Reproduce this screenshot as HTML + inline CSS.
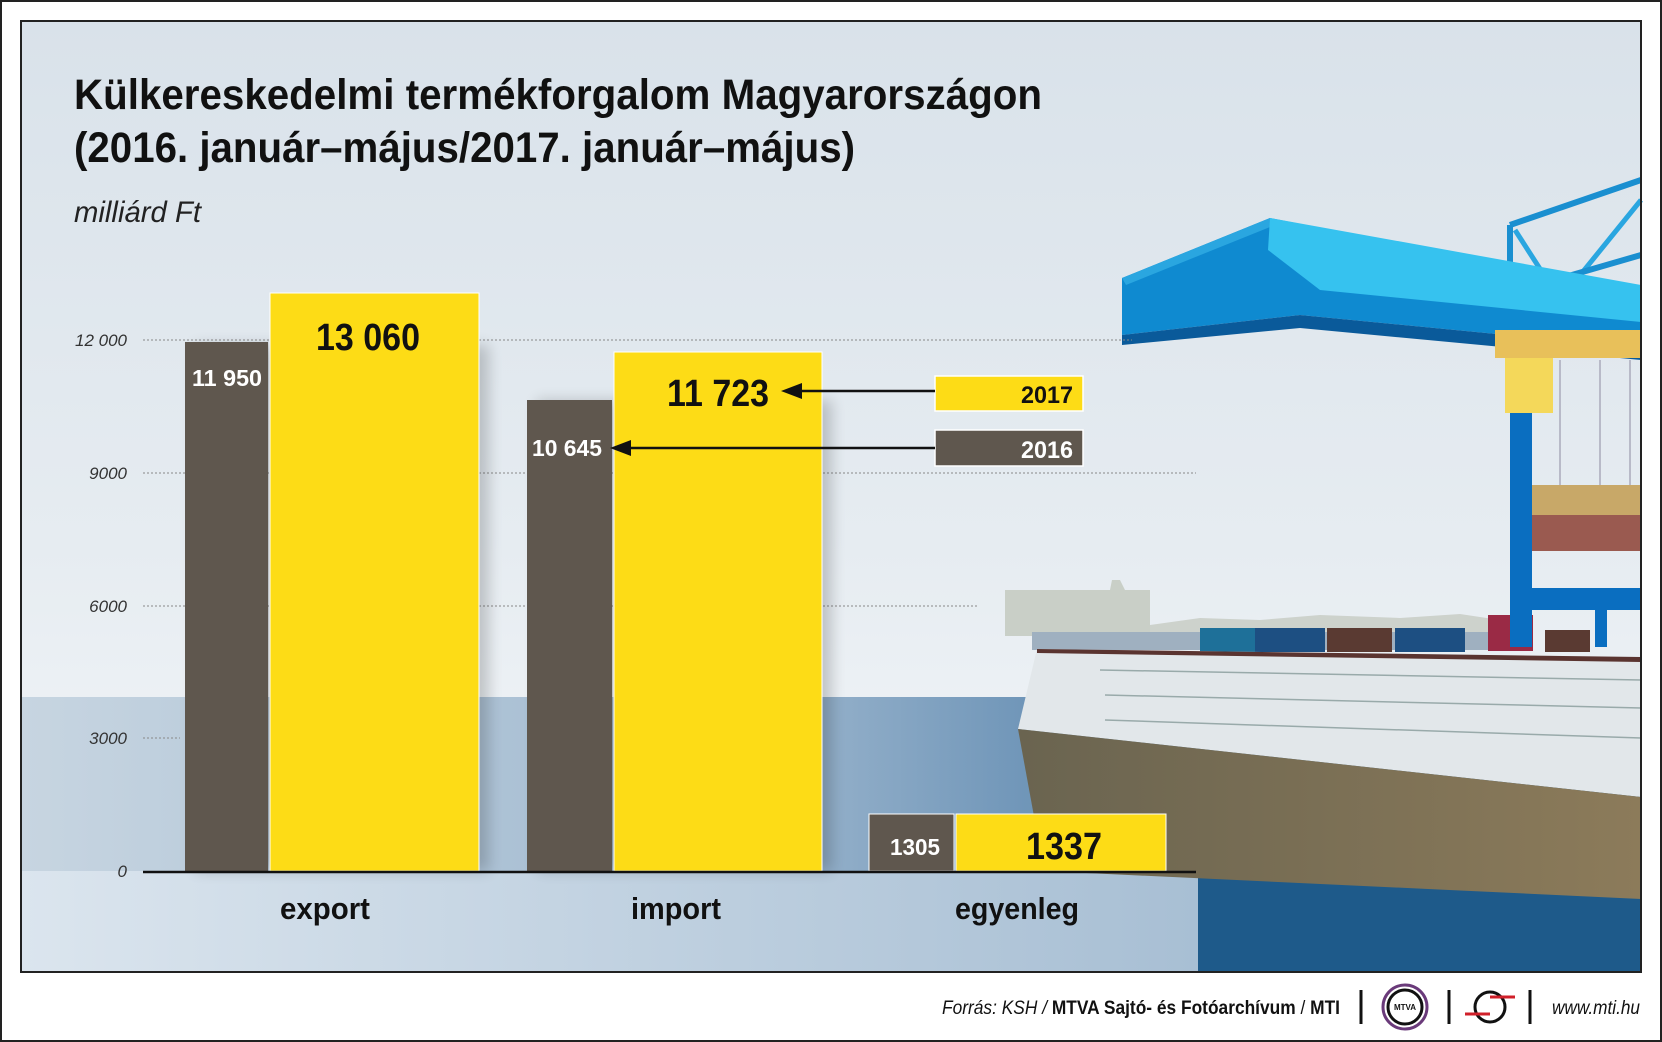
<!DOCTYPE html>
<html><head><meta charset="utf-8"><style>
html,body{margin:0;padding:0;background:#fff}
svg{display:block}
text{font-family:"Liberation Sans",sans-serif}
</style></head><body>
<svg width="1662" height="1042" viewBox="0 0 1662 1042" xmlns="http://www.w3.org/2000/svg">
<defs>
<linearGradient id="sky" x1="0" y1="0" x2="0" y2="1">
<stop offset="0" stop-color="#d9e2ea"/><stop offset="0.55" stop-color="#e6ecf1"/><stop offset="1" stop-color="#f6f8fa"/></linearGradient>
<linearGradient id="water" x1="0" y1="0" x2="1" y2="0">
<stop offset="0" stop-color="#c7d5e1"/><stop offset="0.45" stop-color="#9fb8cf"/><stop offset="0.7" stop-color="#5a86ae"/><stop offset="1" stop-color="#1e5a8a"/></linearGradient>
<linearGradient id="bot" x1="0" y1="0" x2="1" y2="0">
<stop offset="0" stop-color="#dbe5ee"/><stop offset="1" stop-color="#a8bfd4"/></linearGradient>
<linearGradient id="olive" x1="0" y1="0" x2="1" y2="0">
<stop offset="0" stop-color="#6a6450"/><stop offset="1" stop-color="#8c7b5a"/></linearGradient>
<filter id="sh" x="-20%" y="-10%" width="140%" height="120%"><feGaussianBlur stdDeviation="7"/></filter>
</defs>
<rect x="0" y="0" width="1662" height="1042" fill="#fff"/>
<rect x="21" y="21" width="1620" height="951" fill="url(#sky)"/>
<rect x="21" y="697" width="1620" height="275" fill="url(#water)"/>
<rect x="1198" y="840" width="443" height="132" fill="#1e5a8a"/>
<rect x="21" y="871" width="1177" height="101" fill="url(#bot)"/>
<!-- skyline -->
<polygon points="1005,590 1110,590 1112,580 1120,580 1125,590 1150,590 1150,636 1005,636" fill="#c9cfc7"/>
<polygon points="1150,625 1200,618 1260,620 1320,615 1400,618 1460,614 1500,620 1500,640 1150,640" fill="#cdd2cc"/>
<!-- ship -->
<rect x="1032" y="632" width="470" height="18" fill="#9fb0c0"/>
<rect x="1200" y="628" width="55" height="24" fill="#1e7099"/>
<rect x="1255" y="628" width="70" height="24" fill="#1d4f82"/>
<rect x="1327" y="628" width="65" height="24" fill="#5a3a32"/>
<rect x="1395" y="628" width="70" height="24" fill="#1d4f82"/>
<rect x="1488" y="615" width="45" height="36" fill="#9a2a45"/>
<rect x="1545" y="630" width="45" height="22" fill="#5a3a32"/>
<polygon points="1037,649 1641,657 1641,797 1018,729" fill="#e2e7ea"/>
<polygon points="1037,649 1641,657 1641,662 1037,653" fill="#5a3430"/>
<line x1="1100" y1="670" x2="1641" y2="680" stroke="#9aa" stroke-width="1.5"/>
<line x1="1105" y1="695" x2="1641" y2="708" stroke="#9aa" stroke-width="1.5"/>
<line x1="1105" y1="720" x2="1641" y2="738" stroke="#9aa" stroke-width="1.5"/>
<polygon points="1018,729 1641,797 1641,899 1044,871" fill="url(#olive)"/>
<!-- crane -->
<line x1="1510" y1="225" x2="1641" y2="180" stroke="#1a8fd0" stroke-width="6"/>
<line x1="1510" y1="225" x2="1510" y2="300" stroke="#1a8fd0" stroke-width="6"/>
<line x1="1515" y1="230" x2="1560" y2="300" stroke="#2aa6e0" stroke-width="5"/>
<line x1="1560" y1="300" x2="1641" y2="200" stroke="#2aa6e0" stroke-width="5"/>
<line x1="1520" y1="290" x2="1641" y2="255" stroke="#1a8fd0" stroke-width="6"/>
<polygon points="1122,278 1270,218 1641,290 1641,348 1300,315 1122,335" fill="#0f8ad0"/>
<polygon points="1122,278 1270,218 1275,225 1126,285" fill="#2aa6e0"/>
<polygon points="1270,218 1641,285 1641,322 1320,290 1268,250" fill="#36c2ef"/>
<polygon points="1122,335 1300,315 1641,348 1641,360 1300,328 1122,345" fill="#0a5a9a"/>
<rect x="1495" y="330" width="146" height="28" fill="#e8c05a"/>
<rect x="1505" y="358" width="48" height="55" fill="#f4d85a"/>
<rect x="1510" y="413" width="22" height="234" fill="#0a6ec0"/>
<rect x="1510" y="588" width="131" height="22" fill="#0a6ec0"/>
<rect x="1595" y="610" width="12" height="37" fill="#0a6ec0"/>
<g stroke="#aab" stroke-width="1.5"><line x1="1560" y1="360" x2="1560" y2="485"/><line x1="1600" y1="360" x2="1600" y2="485"/><line x1="1630" y1="360" x2="1630" y2="485"/></g>
<rect x="1532" y="485" width="109" height="30" fill="#c8a868"/>
<rect x="1532" y="515" width="109" height="36" fill="#9a5a50"/>
<!-- gridlines -->
<g stroke="#888" stroke-width="1" stroke-dasharray="2,2">
<line x1="143" y1="340" x2="1132" y2="340"/>
<line x1="143" y1="473" x2="1196" y2="473"/>
<line x1="143" y1="606" x2="977" y2="606"/>
<line x1="143" y1="738" x2="180" y2="738"/>
</g>
<g font-style="italic" font-size="17" fill="#333" text-anchor="end">
<text x="127" y="346">12 000</text><text x="127" y="479">9000</text>
<text x="127" y="612">6000</text><text x="127" y="744">3000</text><text x="127" y="877">0</text>
</g>
<!-- shadows -->
<g filter="url(#sh)" fill="#000" opacity="0.18">
<rect x="195" y="345" width="294" height="526"/>
<rect x="537" y="400" width="295" height="471"/>
</g>
<!-- bars -->
<rect x="185" y="342" width="83" height="529" fill="#5f574e"/>
<rect x="270" y="293" width="209" height="578" fill="#fddc16" stroke="#fff" stroke-width="1"/>
<rect x="527" y="400" width="85" height="471" fill="#5f574e"/>
<rect x="614" y="352" width="208" height="519" fill="#fddc16" stroke="#fff" stroke-width="1"/>
<rect x="869" y="814" width="85" height="57" fill="#5f574e" stroke="#fff" stroke-width="1"/>
<rect x="956" y="814" width="210" height="57" fill="#fddc16" stroke="#fff" stroke-width="1"/>
<line x1="143" y1="872" x2="1196" y2="872" stroke="#111" stroke-width="2.5"/>
<g font-weight="bold" text-anchor="middle">
<text x="227" y="386" font-size="23" fill="#fff" textLength="70" lengthAdjust="spacingAndGlyphs">11 950</text>
<text x="368" y="350" font-size="38" fill="#111" textLength="104" lengthAdjust="spacingAndGlyphs">13 060</text>
<text x="567" y="456" font-size="23" fill="#fff" textLength="70" lengthAdjust="spacingAndGlyphs">10 645</text>
<text x="718" y="406" font-size="38" fill="#111" textLength="102" lengthAdjust="spacingAndGlyphs">11 723</text>
<text x="915" y="855" font-size="23" fill="#fff" textLength="50" lengthAdjust="spacingAndGlyphs">1305</text>
<text x="1064" y="859" font-size="38" fill="#111" textLength="76" lengthAdjust="spacingAndGlyphs">1337</text>
<text x="325" y="919" font-size="31" fill="#111" textLength="90" lengthAdjust="spacingAndGlyphs">export</text>
<text x="676" y="919" font-size="31" fill="#111" textLength="90" lengthAdjust="spacingAndGlyphs">import</text>
<text x="1017" y="919" font-size="31" fill="#111" textLength="124" lengthAdjust="spacingAndGlyphs">egyenleg</text>
</g>
<!-- legend -->
<rect x="935" y="376" width="148" height="35" fill="#fddc16" stroke="#fff" stroke-width="1.5"/>
<rect x="935" y="430" width="148" height="36" fill="#5f574e" stroke="#fff" stroke-width="1.5"/>
<text x="1073" y="403" font-size="24" font-weight="bold" fill="#111" text-anchor="end" textLength="52" lengthAdjust="spacingAndGlyphs">2017</text>
<text x="1073" y="458" font-size="24" font-weight="bold" fill="#fff" text-anchor="end" textLength="52" lengthAdjust="spacingAndGlyphs">2016</text>
<line x1="800" y1="391" x2="935" y2="391" stroke="#111" stroke-width="2.5"/>
<polygon points="781,391 802,383 802,399" fill="#111"/>
<line x1="630" y1="448" x2="935" y2="448" stroke="#111" stroke-width="2.5"/>
<polygon points="610,448 631,440 631,456" fill="#111"/>
<!-- titles -->
<text x="74" y="109" font-size="43" font-weight="bold" fill="#111" textLength="968" lengthAdjust="spacingAndGlyphs">Külkereskedelmi termékforgalom Magyarországon</text>
<text x="74" y="162" font-size="43" font-weight="bold" fill="#111" textLength="781" lengthAdjust="spacingAndGlyphs">(2016. január–május/2017. január–május)</text>
<text x="74" y="222" font-size="30" font-style="italic" fill="#222" textLength="127" lengthAdjust="spacingAndGlyphs">milliárd Ft</text>
<!-- frame -->
<rect x="21" y="21" width="1620" height="951" fill="none" stroke="#222" stroke-width="2"/>
<rect x="1" y="1" width="1660" height="1040" fill="none" stroke="#222" stroke-width="2"/>
<!-- footer -->
<text x="1340" y="1014" font-size="19" text-anchor="end" fill="#111" textLength="398" lengthAdjust="spacingAndGlyphs"><tspan font-style="italic">Forrás: KSH / </tspan><tspan font-weight="bold">MTVA Sajtó- és Fotóarchívum</tspan><tspan> / </tspan><tspan font-weight="bold">MTI</tspan></text>
<line x1="1361" y1="990" x2="1361" y2="1024" stroke="#111" stroke-width="3"/>
<circle cx="1405" cy="1007" r="22" fill="none" stroke="#6a3a7a" stroke-width="3"/>
<circle cx="1405" cy="1007" r="17" fill="none" stroke="#111" stroke-width="3"/>
<text x="1405" y="1010" font-size="8" font-weight="bold" text-anchor="middle" fill="#111">MTVA</text>
<line x1="1449" y1="990" x2="1449" y2="1024" stroke="#111" stroke-width="3"/>
<circle cx="1490" cy="1007" r="15" fill="none" stroke="#111" stroke-width="3"/>
<line x1="1465" y1="1014" x2="1490" y2="1014" stroke="#d0202a" stroke-width="3"/>
<line x1="1490" y1="997" x2="1515" y2="997" stroke="#d0202a" stroke-width="3"/>
<line x1="1530" y1="990" x2="1530" y2="1024" stroke="#111" stroke-width="3"/>
<text x="1640" y="1014" font-size="19" font-style="italic" text-anchor="end" fill="#111" textLength="88" lengthAdjust="spacingAndGlyphs">www.mti.hu</text>
</svg>
</body></html>
